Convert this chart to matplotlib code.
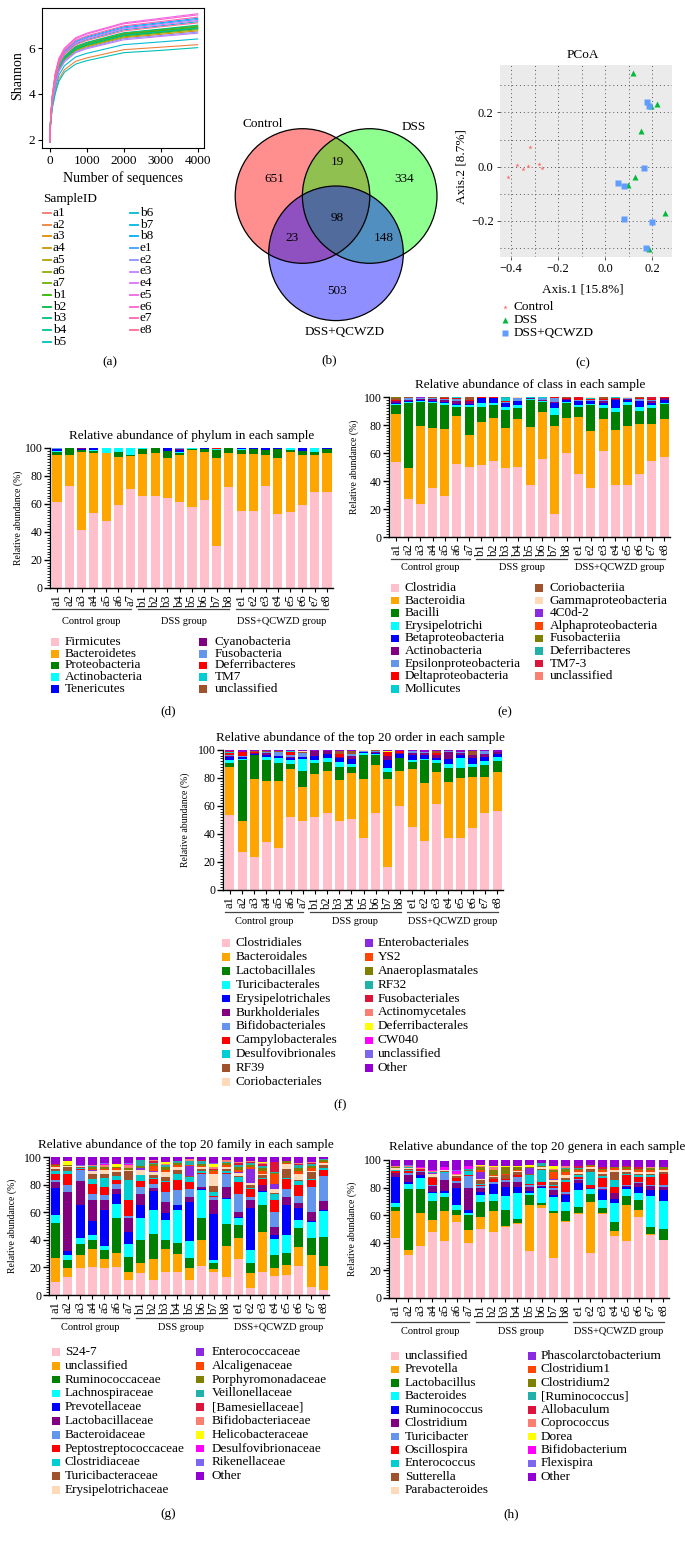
import numpy as np
import matplotlib
matplotlib.use('Agg')
import matplotlib.pyplot as plt
from matplotlib.patches import Circle, Rectangle
from matplotlib.ticker import MultipleLocator

# ---------------- data ----------------
samples = ['a1','a2','a3','a4','a5','a6','a7','b1','b2','b3','b4','b5','b6','b7','b8',
           'e1','e2','e3','e4','e5','e6','e7','e8']
groups = ['Control group', 'DSS group', 'DSS+QCWZD group']
group_sizes = [7, 8, 8]

# (a) rarefaction (Shannon) curves
depths = [1, 30, 75, 150, 250, 400, 700, 1000, 2000, 3000, 4000]
sh_a1 = [1.9, 2.99, 3.78, 4.57, 5.18, 5.61, 6.03, 6.21, 6.62, 6.79, 6.95]
sh_a2 = [1.9, 2.83, 3.46, 4.09, 4.65, 5.06, 5.42, 5.57, 5.93, 6.04, 6.15]
sh_a3 = [1.9, 2.95, 3.70, 4.45, 5.05, 5.48, 5.88, 6.05, 6.45, 6.60, 6.75]
sh_a4 = [1.9, 2.97, 3.74, 4.51, 5.12, 5.55, 5.95, 6.13, 6.54, 6.69, 6.85]
sh_a5 = [1.9, 2.98, 3.76, 4.54, 5.15, 5.58, 5.99, 6.17, 6.58, 6.74, 6.90]
sh_a6 = [1.9, 2.96, 3.72, 4.48, 5.08, 5.51, 5.91, 6.09, 6.49, 6.65, 6.80]
sh_a7 = [1.9, 3.00, 3.79, 4.58, 5.20, 5.63, 6.05, 6.23, 6.64, 6.81, 6.97]
sh_b1 = [1.9, 2.98, 3.77, 4.55, 5.16, 5.59, 6.00, 6.18, 6.60, 6.76, 6.92]
sh_b2 = [1.9, 2.97, 3.74, 4.51, 5.12, 5.55, 5.95, 6.13, 6.54, 6.69, 6.85]
sh_b3 = [1.9, 3.00, 3.80, 4.60, 5.22, 5.65, 6.07, 6.25, 6.67, 6.83, 7.00]
sh_b4 = [1.9, 2.98, 3.76, 4.54, 5.15, 5.58, 5.98, 6.16, 6.57, 6.72, 6.88]
sh_b5 = [1.9, 2.80, 3.40, 4.00, 4.55, 4.95, 5.30, 5.45, 5.80, 5.90, 6.02]
sh_b6 = [1.9, 2.88, 3.56, 4.24, 4.82, 5.23, 5.61, 5.77, 6.15, 6.27, 6.40]
sh_b7 = [1.9, 3.03, 3.86, 4.69, 5.32, 5.76, 6.18, 6.37, 6.80, 6.97, 7.15]
sh_b8 = [1.9, 3.06, 3.92, 4.78, 5.42, 5.86, 6.30, 6.49, 6.93, 7.11, 7.30]
sh_e1 = [1.9, 3.05, 3.90, 4.75, 5.38, 5.82, 6.26, 6.45, 6.88, 7.07, 7.25]
sh_e2 = [1.9, 2.94, 3.68, 4.42, 5.02, 5.44, 5.84, 6.01, 6.41, 6.55, 6.70]
sh_e3 = [1.9, 2.93, 3.66, 4.39, 4.98, 5.40, 5.80, 5.97, 6.36, 6.51, 6.65]
sh_e4 = [1.9, 3.04, 3.88, 4.72, 5.35, 5.79, 6.22, 6.41, 6.84, 7.02, 7.20]
sh_e5 = [1.9, 3.10, 4.00, 4.90, 5.55, 6.00, 6.45, 6.65, 7.10, 7.30, 7.50]
sh_e6 = [1.9, 3.09, 3.98, 4.87, 5.52, 5.97, 6.41, 6.61, 7.06, 7.25, 7.45]
sh_e7 = [1.9, 3.07, 3.94, 4.81, 5.45, 5.90, 6.34, 6.53, 6.97, 7.16, 7.35]
sh_e8 = [1.9, 3.02, 3.84, 4.66, 5.28, 5.72, 6.14, 6.33, 6.75, 6.93, 7.10]
shannon_series = [sh_a1, sh_a2, sh_a3, sh_a4, sh_a5, sh_a6, sh_a7, sh_b1, sh_b2, sh_b3,
                  sh_b4, sh_b5, sh_b6, sh_b7, sh_b8, sh_e1, sh_e2, sh_e3, sh_e4, sh_e5,
                  sh_e6, sh_e7, sh_e8]

# (b) Venn counts
venn_sets = ['Control', 'DSS', 'DSS+QCWZD']
venn_only = [651, 334, 503]          # Control, DSS, DSS+QCWZD only
venn_pairs = [19, 23, 148]           # C&D, C&Q, D&Q
venn_all = 98

# (c) PCoA
pcoa_groups = ['Control', 'DSS', 'DSS+QCWZD']
pc_control_x = [-0.320, -0.373, -0.350, -0.326, -0.282, -0.267, -0.411]
pc_control_y = [0.073, 0.006, -0.007, 0.004, 0.011, -0.006, -0.039]
pc_dss_x = [0.120, 0.194, 0.220, 0.155, 0.128, 0.096, 0.255, 0.186]
pc_dss_y = [0.344, 0.222, 0.230, 0.133, -0.039, -0.066, -0.169, -0.303]
pc_qc_x = [0.177, 0.189, 0.166, 0.054, 0.082, 0.082, 0.199, 0.173]
pc_qc_y = [0.238, 0.223, -0.006, -0.059, -0.070, -0.193, -0.204, -0.299]

# (d) phylum
phylum_labels = ['Firmicutes', 'Bacteroidetes', 'Proteobacteria', 'Actinobacteria', 'Tenericutes',
                 'Cyanobacteria', 'Fusobacteria', 'Deferribacteres', 'TM7', 'unclassified']
ph_firmicutes = [61.2,73.0,41.7,53.6,47.6,59.5,70.7,65.5,66.0,64.3,61.2,57.6,62.6,30.2,71.9,55.2,54.8,73.0,53.1,54.3,59.0,68.8,68.8]
ph_bacteroidetes = [34.0,22.2,55.2,42.8,48.8,34.1,23.8,30.5,30.7,28.7,33.6,41.2,34.5,62.7,24.8,40.8,40.9,22.2,39.8,42.6,36.2,26.0,27.4]
ph_proteobacteria = [2.0,4.5,1.6,1.4,0.3,3.4,0.8,3.6,3.0,4.8,1.5,0.3,2.0,6.0,3.0,2.5,3.3,3.3,6.3,1.8,2.5,2.7,3.0]
ph_actinobacteria = [0.8,0.0,0.3,0.9,3.2,2.8,4.5,0.2,0.0,0.2,0.8,0.8,0.0,0.4,0.0,0.5,0.2,0.0,0.2,1.1,0.0,2.5,0.3]
ph_tenericutes = [1.0,0.2,0.8,1.0,0.1,0.0,0.2,0.2,0.3,2.0,1.8,0.1,0.6,0.2,0.3,1.0,0.8,1.3,0.6,0.2,2.0,0.0,0.5]
ph_cyanobacteria = [0,0,0.2,0.1,0,0,0,0,0,0,0.3,0,0.3,0,0,0,0,0.2,0,0,0.3,0,0]
ph_fusobacteria = [0.8,0,0,0.2,0,0.2,0,0,0,0,0.8,0,0,0,0,0,0,0,0,0,0,0,0]
ph_deferribacteres = [0,0,0,0,0,0,0,0,0,0,0,0,0,0.5,0,0,0,0,0,0,0,0,0]
ph_tm7 = [0.2,0,0.2,0,0,0,0,0,0,0,0,0,0,0,0,0,0,0,0,0,0,0,0]
ph_unclassified = [0,0.1,0,0,0,0,0,0,0,0,0,0,0,0,0,0,0,0,0,0,0,0,0]
phylum_series = [ph_firmicutes, ph_bacteroidetes, ph_proteobacteria, ph_actinobacteria, ph_tenericutes,
                 ph_cyanobacteria, ph_fusobacteria, ph_deferribacteres, ph_tm7, ph_unclassified]

# (e) class
class_labels = ['Clostridia', 'Bacteroidia', 'Bacilli', 'Erysipelotrichi', 'Betaproteobacteria',
                'Actinobacteria', 'Epsilonproteobacteria', 'Deltaproteobacteria', 'Mollicutes',
                'Coriobacteriia', 'Gammaproteobacteria', '4C0d-2', 'Alphaproteobacteria',
                'Fusobacteriia', 'Deferribacteres', 'TM7-3', 'unclassified']
cl_clostridia = [53.8,27.0,23.9,35.2,29.4,52.2,49.8,51.7,54.5,49.0,50.2,37.1,55.5,16.7,59.8,45.2,35.2,61.7,37.1,37.1,44.7,54.5,56.9]
cl_bacteroidia = [34.2,22.5,55.1,42.8,48.1,34.3,23.2,30.8,30.5,29.0,33.8,41.4,33.5,62.8,25.2,40.8,40.8,22.3,39.4,42.4,35.8,26.0,27.1]
cl_bacilli = [6.0,46.0,17.5,17.5,16.5,6.5,20.0,10.5,9.0,12.5,8.0,19.5,7.5,7.5,11.0,7.0,18.0,8.0,13.0,14.5,9.5,12.0,11.0]
cl_erysipelotrichi = [1.0,1.0,0.5,1.0,1.5,1.5,1.0,3.0,2.0,2.5,2.0,0.5,0.5,5.5,0.5,1.5,1.0,2.5,2.5,2.5,3.0,1.5,0.5]
cl_betaproteo = [1.0,1.0,1.0,1.0,1.0,0.5,1.0,3.5,3.0,2.5,3.0,0.3,0.5,3.5,1.5,2.5,2.0,1.5,6.0,1.5,4.0,2.0,2.5]
cl_actinobacteria = [1.0,0.5,0.5,1.0,1.5,2.5,2.0,0.0,0.3,0.5,0.5,0.2,0.5,0.5,0.3,0.5,0.5,1.5,0.3,0.5,0.5,1.5,1.5]
cl_epsilonproteo = [0.5,1.0,0.5,0.5,0.5,1.0,0.5,0.0,0.2,0.5,1.5,0.3,1.0,3.0,0.3,0.5,0.5,0.5,0.3,0.5,1.0,0.5,0.0]
cl_deltaproteo = [0.3,0.3,0.3,0.3,1.0,1.0,0.3,0.3,0.3,0.5,0.3,0.3,0.3,0.3,1.0,1.5,0.5,0.3,1.0,0.5,0.5,0.5,0.2]
cl_mollicutes = [0.2,0.2,0.2,0.2,0.0,0.2,0.2,0.2,0.0,2.0,0.2,0.2,0.5,0.0,0.0,0.0,0.5,0.2,0.4,0.0,0.5,0.0,0.0]
cl_coriobacteriia = [1.0,0.2,0,0.5,0.5,0.3,2.0,0,0,0,0,0,0,0,0.4,0,0.5,1.5,0,0,0.5,0,0]
cl_gammaproteo = [0,0.3,0,0,0,0,0,0,0.2,0.5,0.5,0,0.2,0.2,0,0,0.5,0,0,0.5,0,0,0]
cl_4c0d2 = [0,0,0.5,0,0,0,0,0,0,0,0,0,0,0,0,0,0,0,0,0,0,0,0.3]
cl_alphaproteo = [0,0,0,0,0,0,0,0,0,0,0,0.2,0,0,0,0,0,0,0,0,0,0,0]
cl_fusobacteriia = [1.0,0,0,0,0,0,0,0,0,0,0,0,0,0,0,0,0,0,0,0,0,0,0]
cl_deferribacteres = [0,0,0,0,0,0,0,0,0,0.5,0,0,0,0,0,0,0,0,0,0,0,0,0]
cl_tm73 = [0,0,0,0,0,0,0,0,0,0,0,0,0,0,0,0.5,0,0,0,0,0,1.5,0]
cl_unclassified = [0]*23
class_series = [cl_clostridia, cl_bacteroidia, cl_bacilli, cl_erysipelotrichi, cl_betaproteo,
                cl_actinobacteria, cl_epsilonproteo, cl_deltaproteo, cl_mollicutes, cl_coriobacteriia,
                cl_gammaproteo, cl_4c0d2, cl_alphaproteo, cl_fusobacteriia, cl_deferribacteres,
                cl_tm73, cl_unclassified]

# (f) order
order_labels = ['Clostridiales', 'Bacteroidales', 'Lactobacillales', 'Turicibacterales',
                'Erysipelotrichales', 'Burkholderiales', 'Bifidobacteriales', 'Campylobacterales',
                'Desulfovibrionales', 'RF39', 'Coriobacteriales', 'Enterobacteriales', 'YS2',
                'Anaeroplasmatales', 'RF32', 'Fusobacteriales', 'Actinomycetales',
                'Deferribacterales', 'CW040', 'unclassified', 'Other']
or_clostridiales = [53.6,27.4,23.8,34.5,29.8,52.4,49.5,51.9,54.8,49.3,50.5,36.9,55.2,16.7,60.0,45.2,35.0,61.4,36.9,36.9,44.5,54.8,56.7]
or_bacteroidales = [34.0,21.9,55.2,43.4,48.1,34.0,24.3,30.7,30.2,29.3,33.3,42.1,33.8,62.6,25.0,41.0,41.2,22.6,40.5,42.9,36.5,26.2,27.3]
or_lactobacillales = [3.4,43.6,17.4,15.0,13.1,3.6,11.4,7.9,6.7,9.0,3.8,17.4,7.4,4.7,9.0,5.5,16.7,7.0,9.5,7.1,6.6,8.3,8.4]
or_turicibacterales = [2.0,1.0,0.3,2.0,3.0,3.0,8.5,2.5,2.5,3.5,2.5,1.5,0.5,3.0,0.5,1.5,1.0,1.5,3.0,7.5,2.5,3.0,2.5]
or_erysipelotrichales = [2.0,1.0,0.5,1.5,1.5,1.0,1.0,3.0,3.0,3.0,3.5,0.8,0.8,6.0,2.5,3.0,2.5,2.0,3.5,2.0,4.5,2.5,2.0]
or_burkholderiales = [0.5,0.0,0.8,1.5,0.5,1.0,0.5,3.5,2.0,1.0,2.0,0.0,1.0,3.0,1.0,2.0,1.5,2.0,5.0,1.5,2.0,2.0,2.0]
or_bifidobacteriales = [1.0,0.5,0,1.0,2.5,1.5,2.5,0,0,0,1.5,0.5,0.5,0,0,0.8,1.0,0,0.8,1.0,0,2.5,0]
or_campylobacterales = [1.0,3.5,0.5,0,0,2.0,0,0,0,2.0,0,0,0,2.5,1.0,0,0,1.5,0,0,0,0,0]
or_desulfovibrionales = [1.0,0,0,0,0,1.0,0,0,0,0,0,0,0,0,0,0,0,0,0,0,0,0,0]
or_rf39 = [0,0,0.5,0.5,0.5,0,1.0,0,0,2.0,2.4,0,0.5,0,0,0,0,1.0,0,0,2.5,0,0]
or_coriobacteriales = [0,0,0,0,0.5,0,0.8,0,0,0,0,0.5,0,0,0,0,0,0,0,0,0,0,0]
or_enterobacteriales = [0]*23
or_ys2 = [0,0,0.5,0,0,0,0,0,0,0,0,0,0,0,0,0,0,0,0,0,0,0,0]
or_anaeroplasmatales = [0]*23
or_rf32 = [0]*23
or_fusobacteriales = [0.5,0,0,0,0,0,0,0,0,0,0,0,0,0,0,0,0,0,0,0,0,0,0]
or_actinomycetales = [0]*23
or_deferribacterales = [0,0,0,0,0,0,0,0,0,0,0,0,0,1.0,0,0,0,0,0,0,0,0,0]
or_cw040 = [0]*23
or_unclassified = [0]*23
or_other = [1.0,1.1,0.5,0.6,0.5,0.5,0.5,0.5,0.8,0.9,0.5,0.3,0.3,0.5,1.0,1.0,1.1,1.0,0.8,1.1,0.9,0.7,1.1]
order_series = [or_clostridiales, or_bacteroidales, or_lactobacillales, or_turicibacterales,
                or_erysipelotrichales, or_burkholderiales, or_bifidobacteriales, or_campylobacterales,
                or_desulfovibrionales, or_rf39, or_coriobacteriales, or_enterobacteriales, or_ys2,
                or_anaeroplasmatales, or_rf32, or_fusobacteriales, or_actinomycetales,
                or_deferribacterales, or_cw040, or_unclassified, or_other]

# (g) family
family_labels = ['S24-7', 'unclassified', 'Ruminococcaceae', 'Lachnospiraceae', 'Prevotellaceae',
                 'Lactobacillaceae', 'Bacteroidaceae', 'Peptostreptococcaceae', 'Clostridiaceae',
                 'Turicibacteraceae', 'Erysipelotrichaceae', 'Enterococcaceae', 'Alcaligenaceae',
                 'Porphyromonadaceae', 'Veillonellaceae', '[Bamesiellaceae]', 'Bifidobacteriaceae',
                 'Helicobacteraceae', 'Desulfovibrionaceae', 'Rikenellaceae', 'Other']
fa_s247 = [9.6,13.3,19.8,20.5,19.3,20.0,10.8,16.1,10.8,16.4,16.4,10.8,21.0,16.4,13.3,25.8,4.8,16.9,13.7,14.5,21.0,6.0,3.6]
fa_unclassified = [16.9,6.0,9.1,12.8,6.7,10.6,5.6,7.3,15.0,16.6,13.2,8.5,19.2,2.2,22.1,15.2,10.9,28.9,6.1,7.2,13.9,22.9,17.4]
fa_ruminococcaceae = [25.8,6.0,8.4,6.5,6.5,25.5,11.3,16.4,18.1,6.8,8.2,7.2,15.9,4.3,16.4,9.6,7.7,19.2,9.1,8.4,14.0,12.1,21.2]
fa_lachnospiraceae = [5.5,3.6,4.1,3.6,2.9,10.2,9.2,16.3,17.5,14.4,23.6,12.5,20.3,2.4,18.1,5.5,9.1,9.7,11.6,13.3,5.8,12.0,18.8]
fa_prevotellaceae = [20.0,2.9,24.1,10.1,26.0,6.7,8.6,8.9,14.0,5.3,3.6,28.5,0.5,33.7,0.5,0.5,30.2,0.5,2.9,21.6,8.0,0.5,0.5]
fa_lactobacillaceae = [4.2,43.0,17.1,15.2,7.8,4.1,10.6,8.5,2.2,8.0,0.5,3.5,1.4,10.2,7.9,3.6,6.5,4.3,6.0,6.0,4.0,6.7,6.5]
fa_bacteroidaceae = [1.6,4.7,8.2,4.8,3.1,3.6,1.0,4.8,3.1,7.2,10.4,6.1,9.7,1.8,9.7,13.3,1.8,0.5,10.8,6.1,4.9,18.1,18.0]
fa_peptostreptococcaceae = [4.4,8.5,0.5,7.2,6.0,2.4,11.6,4.4,3.6,7.2,7.2,4.8,0.5,0.5,0.5,8.4,6.1,4.3,8.5,7.2,7.9,4.8,4.9]
fa_clostridiaceae = [1.9,2.0,0.5,3.2,6.7,2.9,14.4,4.0,0.5,1.0,4.9,3.6,1.0,3.2,1.0,3.6,0.5,0.5,4.8,0.5,2.9,1.0,1.0]
fa_turicibacteraceae = [1.7,2.8,1.0,4.1,3.0,3.2,6.8,0.5,2.4,2.6,2.8,0.5,2.1,4.0,2.1,0.5,2.4,1.9,0.5,6.8,1.0,5.1,2.6]
fa_erysipelotrichaceae = [1.2,0.5,0.5,1.9,2.4,1.6,1.0,3.6,2.0,3.7,2.0,0.5,1.0,9.3,1.0,2.4,1.0,1.0,3.1,3.4,4.6,1.0,1.0]
fa_enterococcaceae = [0.3,0,0.5,0.5,0,0,0,1.0,0.5,0,0,6.8,0,0,0,1.0,10.6,0,3.6,0,0,0,0]
fa_alcaligenaceae = [0.5,0.5,0,1.0,1.0,1.0,0,0.5,3.6,1.5,1.5,1.0,1.0,1.5,1.5,1.5,1.5,2.0,7.3,1.0,2.0,2.0,1.0]
fa_porphyromonadaceae = [0.3,0.3,0,1.0,1.0,1.0,1.0,1.0,1.5,2.0,1.5,0,1.5,1.0,1.5,1.5,1.0,2.0,0.5,1.0,2.0,1.5,1.0]
fa_veillonellaceae = [0.5,0,0,1.0,0,0,0,4.2,1.0,1.5,1.0,3.0,2.0,0,1.0,2.0,1.5,2.0,0.5,0,2.0,1.0,1.0]
fa_bamesiellaceae = [0.2,0,0,0,0,0,0,0,1.0,0,0,0,1.0,1.1,0,1.0,0.5,1.0,7.4,0,1.0,1.0,0]
fa_bifidobacteriaceae = [0.2,0,0,0.6,2.0,0,2.4,0,1.0,1.0,0,1.0,0,1.0,1.0,1.0,1.0,1.0,0,0,1.0,1.0,0]
fa_helicobacteraceae = [0,3.0,0,0,0,2.0,0,0,0,1.5,0,0,0,2.4,0,0,0,0.5,0,0,0,0,0]
fa_desulfovibrionaceae = [0,0,0,0,0.5,0,0.3,0,0,0,0,0,0,0,0,0,0,0,0,0,0,0,0]
fa_rikenellaceae = [0.2,0,0.5,0,1.0,0,1.0,0,0,0,0,0,0,1.0,0,0,0,0,0,0,0,0,0]
fa_other = [5.0,2.9,5.7,6.0,4.1,5.2,4.4,2.5,2.2,3.3,3.2,1.7,1.9,4.0,2.4,3.6,2.9,3.8,3.6,3.0,4.0,3.3,2.0]
family_series = [fa_s247, fa_unclassified, fa_ruminococcaceae, fa_lachnospiraceae, fa_prevotellaceae,
                 fa_lactobacillaceae, fa_bacteroidaceae, fa_peptostreptococcaceae, fa_clostridiaceae,
                 fa_turicibacteraceae, fa_erysipelotrichaceae, fa_enterococcaceae, fa_alcaligenaceae,
                 fa_porphyromonadaceae, fa_veillonellaceae, fa_bamesiellaceae, fa_bifidobacteriaceae,
                 fa_helicobacteraceae, fa_desulfovibrionaceae, fa_rikenellaceae, fa_other]

# (h) genera
genus_labels = ['unclassified', 'Prevotella', 'Lactobacillus', 'Bacteroides', 'Ruminococcus',
                'Clostridium', 'Turicibacter', 'Oscillospira', 'Enterococcus', 'Sutterella',
                'Parabacteroides', 'Phascolarctobacterium', 'Clostridium1', 'Clostridium2',
                '[Ruminococcus]', 'Allobaculum', 'Coprococcus', 'Dorea', 'Bifidobacterium',
                'Flexispira', 'Other']
ge_unclassified = [43.4,31.3,38.0,47.5,41.0,55.4,40.2,49.9,47.5,51.3,53.5,33.7,65.0,28.9,55.4,61.0,32.5,61.0,44.6,41.0,58.6,45.8,41.7]
ge_prevotella = [19.3,3.6,23.4,9.1,21.7,4.8,9.2,8.7,15.6,1.0,1.2,33.8,2.5,32.5,0.5,0.5,37.4,0.5,3.6,26.5,5.3,0.7,0.5]
ge_lactobacillus = [3.6,43.9,17.4,14.0,10.8,3.7,10.8,10.8,7.3,11.6,2.4,7.2,1.2,1.3,6.8,4.8,5.5,3.5,7.2,6.5,7.2,5.3,7.7]
ge_bacteroides = [2.9,3.6,7.9,5.3,2.9,3.6,1.2,5.3,4.8,10.1,18.8,1.7,10.8,10.8,7.2,12.0,3.4,6.1,13.3,4.8,4.8,22.2,20.7]
ge_ruminococcus = [18.8,1.9,2.5,1.0,1.0,12.0,2.5,2.4,7.2,6.7,4.8,1.0,1.2,1.2,4.8,4.8,0.5,7.2,2.9,1.4,4.8,4.3,7.7]
ge_clostridium = [2.4,4.9,2.4,4.5,8.1,4.1,16.0,2.9,0.5,3.6,3.6,3.3,0.5,3.6,1.0,2.4,0.5,1.0,4.3,1.0,2.9,2.9,2.4]
ge_turicibacter = [0.5,1.5,0.5,0.5,4.9,1.0,8.5,1.0,1.0,1.0,3.7,1.0,0.5,1.5,1.0,1.0,0.0,1.0,0.5,1.0,0.5,1.0,1.0]
ge_oscillospira = [1.0,1.5,0.5,4.8,0.5,2.1,0.5,1.0,2.0,1.0,1.0,1.0,2.6,1.0,7.6,1.5,2.1,6.4,4.3,7.0,3.9,5.8,7.9]
ge_enterococcus = [0.5,0.5,0.0,0.5,0.5,0.5,3.1,0.5,0.5,0.0,0.0,6.5,8.5,1.0,1.0,1.0,9.7,2.0,4.8,1.0,1.0,1.0,0.5]
ge_sutterella = [0.5,0.5,0.0,0.5,0.5,1.0,0.5,3.0,1.0,2.9,2.0,0.5,1.0,2.5,2.0,1.0,2.0,1.5,6.1,1.0,1.0,1.0,1.5]
ge_parabacteroides = [1.0,1.0,0.5,2.0,0.5,1.0,0.0,1.0,1.0,0.0,1.0,0.5,1.0,1.0,2.0,1.5,1.0,1.0,1.0,1.5,1.5,1.5,1.5]
ge_phascolarctobacterium = [0,0,0,1.0,0,0,0,5.1,0,0,0,4.0,0,1.0,0,0,0,0,0,0,0,0,0]
ge_clostridium1 = [0.5,0,0,0,0,0,0,1.0,1.0,1.0,1.0,0,0,5.3,2.0,1.0,1.0,1.5,1.5,1.0,1.0,1.5,0.5]
ge_clostridium2 = [0.3,0,0,0,0,0,0,2.0,3.0,4.8,2.0,1.0,1.0,1.0,2.0,1.0,1.0,1.0,1.0,1.0,1.0,1.0,1.0]
ge_ruminococcus_b = [0.3,0.5,0,0.5,0,0,1.0,0,0.6,0,0,0,2.0,0,1.0,1.0,0,0,0,0,0,0,0]
ge_allobaculum = [0,0,0.5,0,0,0,0,0,0,0,0,0,0,0,0,1.0,0,1.0,0,1.0,1.5,0,0.5]
ge_coprococcus = [1.0,1.0,0.5,1.0,0.5,1.0,0,1.0,2.0,0,0,0,0,1.0,1.0,0,0,0,0,0,0,1.0,0]
ge_dorea = [0,0,0,0,0,0,0,1.0,1.0,1.0,1.0,1.0,0,2.4,0,0,0,0,0,0,0,0,0]
ge_bifidobacterium = [0,0,0.5,0.5,2.0,1.5,2.0,0,0,0,0,0,0,0,0,0,0,0,0,0,0,0,0]
ge_flexispira = [0,1.0,0,0,0,1.0,0,0,0,0,0,0,0,0,0,0,0,0,0,0,0,0,0]
ge_other = [4.0,3.3,5.4,7.3,4.6,7.3,4.5,3.4,4.0,4.0,4.0,3.8,2.2,4.0,4.7,4.5,3.4,5.3,4.9,4.3,5.0,5.0,4.9]
genus_series = [ge_unclassified, ge_prevotella, ge_lactobacillus, ge_bacteroides, ge_ruminococcus,
                ge_clostridium, ge_turicibacter, ge_oscillospira, ge_enterococcus, ge_sutterella,
                ge_parabacteroides, ge_phascolarctobacterium, ge_clostridium1, ge_clostridium2,
                ge_ruminococcus_b, ge_allobaculum, ge_coprococcus, ge_dorea, ge_bifidobacterium,
                ge_flexispira, ge_other]

# ---------------- style ----------------
pal21 = ['#FFC0CB', '#FFA500', '#008000', '#00FFFF', '#0000FF', '#800080', '#6495ED', '#FF0000',
         '#00CED1', '#A0522D', '#FFDAB9', '#8A2BE2', '#FF4500', '#808000', '#20B2AA', '#DC143C',
         '#FA8072', '#FFFF00', '#FF00FF', '#7B68EE', '#9400D3']

plt.rcParams['font.family'] = ['Liberation Serif', 'DejaVu Serif']
plt.rcParams['axes.unicode_minus'] = True


def hue_pal(n, h0=15, h1=375, c=100, l=65):
    hues = np.linspace(h0, h1, n + 1)[:-1]
    Xn, Yn, Zn = 95.047, 100.0, 108.883
    un = 4 * Xn / (Xn + 15 * Yn + 3 * Zn)
    vn = 9 * Yn / (Xn + 15 * Yn + 3 * Zn)
    M = np.array([[3.2404542, -1.5371385, -0.4985314],
                  [-0.9692660, 1.8760108, 0.0415560],
                  [0.0556434, -0.2040259, 1.0572252]])
    out = []
    for h in hues:
        hr = np.deg2rad(h)
        u, v = c * np.cos(hr), c * np.sin(hr)
        Y = Yn * ((l + 16) / 116) ** 3
        up, vp = u / (13 * l) + un, v / (13 * l) + vn
        X = Y * 9 * up / (4 * vp)
        Z = Y * (12 - 3 * up - 20 * vp) / (4 * vp)
        rgb = M @ (np.array([X, Y, Z]) / 100)
        rgb = np.clip(rgb, 0, None)
        rgb = np.where(rgb <= 0.0031308, 12.92 * rgb, 1.055 * np.power(rgb, 1 / 2.4) - 0.055)
        out.append(tuple(np.clip(rgb, 0, 1)))
    return out


W, H = 685, 1542
fig = plt.figure(figsize=(W / 100, H / 100), dpi=100)
ov = fig.add_axes([0, 0, 1, 1])
ov.set_xlim(0, W)
ov.set_ylim(H, 0)
ov.axis('off')


def pax(l, t, r, b):
    return fig.add_axes([l / W, 1 - b / H, (r - l) / W, (b - t) / H])


# ---------------- (a) ----------------
axa = pax(42, 8, 204, 148)
cols = hue_pal(len(samples))
for s, vals, c in zip(samples, shannon_series, cols):
    axa.plot(depths, vals, color=c, lw=0.8)
axa.set_xlim(-207, 4171)
axa.set_ylim(1.64, 7.75)
axa.set_xticks([0, 1000, 2000, 3000, 4000])
axa.set_yticks([2, 4, 6])
axa.tick_params(labelsize=9.5, length=3, width=0.8, pad=2)
for sp in axa.spines.values():
    sp.set_linewidth(0.8)
ov.text(18, 76, 'Shannon', rotation=90, ha='center', va='center', fontsize=10)
ov.text(123, 178, 'Number of sequences', ha='center', va='center', fontsize=10)
ov.text(43, 199, 'SampleID', ha='left', va='center', fontsize=9.5)
for i, (s, c) in enumerate(zip(samples, cols)):
    if i < 12:
        lx, tx, row = 43, 53, i
    else:
        lx, tx, row = 130, 140, i - 12
    y = 213 + row * 11.7
    ov.plot([lx, lx + 8], [y, y], color=c, lw=1.3)
    ov.text(tx, y, s, ha='left', va='center', fontsize=9.5)
ov.text(110, 362, '(a)', ha='center', va='center', fontsize=9.5)

# ---------------- (b) Venn ----------------
centers = [(302.5, 196), (369.7, 196), (336, 253.3)]
rad = 67.3
fills = ['#FF0000', '#00FF00', '#0000FF']
for (cx, cy), fc in zip(centers, fills):
    ov.add_patch(Circle((cx, cy), rad, facecolor=fc, alpha=0.44, edgecolor='none'))
for (cx, cy) in centers:
    ov.add_patch(Circle((cx, cy), rad, facecolor='none', edgecolor='black', lw=0.9))
only_pos = [(274, 179), (404, 179), (337, 291)]
pair_pos = [(337, 162), (292, 238), (384, 238)]
for (x, y), v in zip(only_pos, venn_only):
    ov.text(x, y, str(v), ha='center', va='center', fontsize=9.5)
for (x, y), v in zip(pair_pos, venn_pairs):
    ov.text(x, y, str(v), ha='center', va='center', fontsize=9.5)
ov.text(337, 218, str(venn_all), ha='center', va='center', fontsize=9.5)
for (x, y), lab in zip([(263, 124), (414, 127), (345, 332)], venn_sets):
    ov.text(x, y, lab, ha='center', va='center', fontsize=9.5)
ov.text(329, 360, '(b)', ha='center', va='center', fontsize=9.5)

# ---------------- (c) PCoA ----------------
axc = pax(500, 65, 672, 257)
axc.set_facecolor('#EBEBEB')
for sp in axc.spines.values():
    sp.set_visible(False)
axc.set_xlim(-0.447, 0.285)
axc.set_ylim(-0.333, 0.375)
axc.set_xticks([-0.4, -0.2, 0.0, 0.2])
axc.set_yticks([-0.2, 0.0, 0.2])
axc.xaxis.set_minor_locator(MultipleLocator(0.1))
axc.yaxis.set_minor_locator(MultipleLocator(0.1))
axc.set_axisbelow(True)
axc.grid(True, which='both', linestyle=(0, (1, 3)), color='#555555', lw=0.7)
axc.tick_params(which='minor', length=0)
axc.tick_params(which='major', length=2.5, width=0.6, color='#333333', labelsize=9, pad=2)
mk = [dict(marker='*', ms=3.2, color='#F8766D'),
      dict(marker='^', ms=4.2, color='#00BA38'),
      dict(marker='s', ms=3.8, color='#619CFF')]
for xs, ys, m in zip([pc_control_x, pc_dss_x, pc_qc_x], [pc_control_y, pc_dss_y, pc_qc_y], mk):
    axc.plot(xs, ys, ls='none', mec='none', **m)
ov.text(583, 55, 'PCoA', ha='center', va='center', fontsize=9.5)
ov.text(583, 289, 'Axis.1 [15.8%]', ha='center', va='center', fontsize=9.5)
ov.text(462, 167, 'Axis.2 [8.7%]', rotation=90, ha='center', va='center', fontsize=9.5)
for i, (lab, m) in enumerate(zip(pcoa_groups, mk)):
    y = 307 + i * 13
    ov.plot([505], [y], ls='none', mec='none', **m)
    ov.text(514, y, lab, ha='left', va='center', fontsize=9.5)
ov.text(583, 363, '(c)', ha='center', va='center', fontsize=9.5)


# ---------------- stacked bar panels ----------------
def bar_panel(rect, series, labels, title, title_xy, ylab_xy, gline_y, glabel_y, leg):
    l, t, r, b = rect
    ax = pax(l, t, r, b)
    x = np.arange(len(samples))
    bottom = np.zeros(len(samples))
    for vals, col in zip(series, pal21):
        v = np.array(vals, float)
        ax.bar(x, v, bottom=bottom, width=0.74, color=col, linewidth=0)
        bottom = bottom + v
    ax.set_xlim(-0.55, len(samples) - 0.55)
    ax.set_ylim(0, 100)
    for s in ['top', 'right']:
        ax.spines[s].set_visible(False)
    for s in ['left', 'bottom']:
        ax.spines[s].set_linewidth(1.0)
    ax.set_yticks(range(0, 101, 20))
    ax.yaxis.set_minor_locator(MultipleLocator(2))
    ax.tick_params(axis='y', which='major', length=4, width=1, labelsize=8.5, pad=1.5)
    ax.tick_params(axis='y', which='minor', length=2, width=0.6)
    ax.set_xticks(x)
    ax.set_xticklabels(samples, rotation=90, fontsize=9)
    ax.tick_params(axis='x', length=3, width=0.8, pad=1.5)
    h = b - t
    yl = (b - gline_y) / h
    yt = (b - glabel_y) / h
    tr = ax.get_xaxis_transform()
    start = 0
    for g, n in zip(groups, group_sizes):
        x0, x1 = start - 0.4, start + n - 1 + 0.05
        ax.plot([x0, x1], [yl, yl], transform=tr, color='#444444', lw=0.9, clip_on=False)
        ax.text((x0 + x1) / 2, yt, g, transform=tr, ha='center', va='center', fontsize=7.5)
        start += n
    ov.text(title_xy[0], title_xy[1], title, ha='center', va='center', fontsize=9.5)
    ov.text(ylab_xy[0], ylab_xy[1], 'Relative abundance (%)', rotation=90,
            ha='center', va='center', fontsize=7)
    sq1, tx1, sq2, tx2, y0, dy, nleft = leg
    for i, lab in enumerate(labels):
        if i < nleft:
            sx, tx, row = sq1, tx1, i
        else:
            sx, tx, row = sq2, tx2, i - nleft
        y = y0 + row * dy
        ov.add_patch(Rectangle((sx - 3.8, y - 3.8), 7.6, 7.6, facecolor=pal21[i], edgecolor='none'))
        ov.text(tx, y, lab, ha='left', va='center', fontsize=9.5)
    return ax


bar_panel((50.25, 448, 332.5, 588), phylum_series, phylum_labels,
          'Relative abundance of phylum in each sample', (192, 436), (18, 518), 609, 621,
          (55, 65, 203, 215, 642, 11.7, 5))
ov.text(168, 711, '(d)', ha='center', va='center', fontsize=9.5)

bar_panel((389.3, 397, 669.5, 537), class_series, class_labels,
          'Relative abundance of class in each sample', (530, 385), (354, 467), 559, 568,
          (395, 405, 539, 550, 588, 12.6, 9))
ov.text(505, 712, '(e)', ha='center', va='center', fontsize=9.5)

bar_panel((223.3, 750, 502.5, 890), order_series, order_labels,
          'Relative abundance of the top 20 order in each sample', (360, 738), (185, 820), 912, 922,
          (226, 236, 369, 378, 943, 13.9, 11))
ov.text(340, 1105, '(f)', ha='center', va='center', fontsize=9.5)

bar_panel((49, 1157, 328.8, 1295), family_series, family_labels,
          'Relative abundance of the top 20 family in each sample', (186, 1145), (12, 1226), 1318, 1328,
          (56, 65, 200, 212, 1352, 13.8, 11))
ov.text(168, 1514, '(g)', ha='center', va='center', fontsize=9.5)

bar_panel((389.3, 1160, 668.5, 1298), genus_series, genus_labels,
          'Relative abundance of the top 20 genera in each sample', (537, 1147), (352, 1229), 1322, 1332,
          (395, 405, 532, 541, 1356, 13.43, 11))
ov.text(511, 1514, '(h)', ha='center', va='center', fontsize=9.5)

fig.savefig('out.png', dpi=100)
